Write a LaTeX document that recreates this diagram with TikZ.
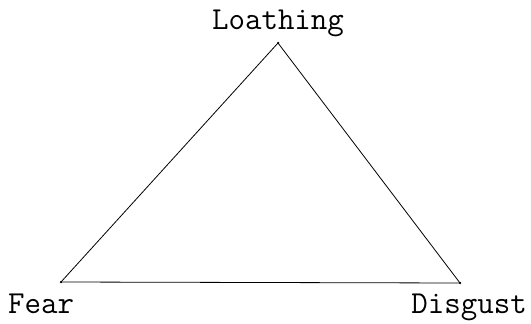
\documentclass[tikz,border=0pt]{standalone}
\usepackage{tikz}
\usetikzlibrary{positioning}

\begin{document}
\begin{tikzpicture}[x=1pt, y=-1pt,
  vertex/.style={circle, fill, inner sep=0pt, minimum size=2.5pt},
  emolabel/.style={font=\ttfamily\fontsize{32}{32}\selectfont, inner sep=0pt, anchor=base},
  side/.style={draw, line width=0.8pt},
]
  \useasboundingbox (0,0) rectangle (531,324);

  % Corners of the triangle
  \node[vertex] (top) at (278,43) {};
  \node[vertex] (fear) at (61,282) {};
  \node[vertex] (disgust) at (460,283) {};

  % Sides
  \draw[side] (fear.center) -- (top.center);
  \draw[side] (top.center) -- (disgust.center);
  \draw[side] (disgust.center) -- (fear.center);

  % Labels
  \node[emolabel] (loathinglbl) at (278,30) {Loathing};
  \node[emolabel, anchor=base west] (fearlbl) at (8,313) {Fear};
  \node[emolabel, anchor=base east] (disgustlbl) at (527,313) {Disgust};
\end{tikzpicture}
\end{document}
